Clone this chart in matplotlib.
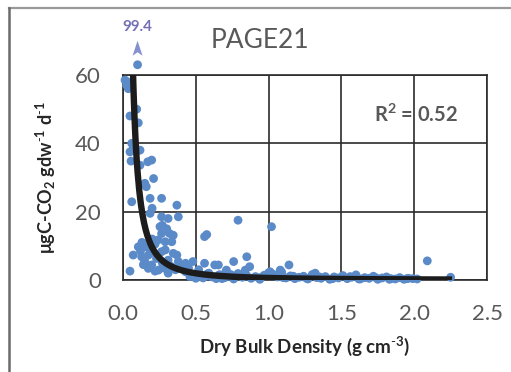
import numpy as np
import matplotlib
matplotlib.use("Agg")
import matplotlib.pyplot as plt
from matplotlib.lines import Line2D
from matplotlib.patches import Polygon

plt.rcParams['font.family'] = ['Lato', 'DejaVu Sans']
plt.rcParams['mathtext.fontset'] = 'custom'
plt.rcParams['mathtext.rm'] = 'Lato'
plt.rcParams['mathtext.bf'] = 'Lato:bold'
plt.rcParams['mathtext.default'] = 'bf'

# Dry bulk density (g cm-3) and respiration (ugC-CO2 gdw-1 d-1)
bulk_density = [
    0.10,
    0.014, 0.025, 0.036, 0.030, 0.094, 0.048, 0.105,
    0.060, 0.070, 0.048, 0.117, 0.055, 0.170, 0.197, 0.117,
    0.150, 0.210, 0.160, 0.060, 0.186, 0.265, 0.370,
    0.186, 0.265, 0.310, 0.380, 0.254, 0.265, 0.320, 0.345,
    0.560, 0.575, 0.240, 0.290, 0.335, 0.105, 0.160, 0.290, 0.345,
    0.070, 0.128, 0.174, 0.265, 0.230, 0.310, 0.370,
    0.150, 0.197, 0.243, 0.310, 0.048, 0.220, 0.174,
    0.380, 0.430, 0.480, 0.560, 0.630, 0.430, 0.490, 0.590, 0.660,
    0.790, 1.020, 0.655, 0.710, 0.760, 0.850, 0.870, 0.840, 1.140, 1.080, 1.320,
    2.090, 2.250,
    0.200, 0.220, 0.190, 0.270, 0.330, 0.360, 0.400, 0.450, 0.520, 0.280,
    0.140, 0.120, 0.130, 0.200, 0.270, 0.300,
    0.52, 0.55, 0.58, 0.61, 0.64, 0.67, 0.70, 0.73, 0.76, 0.79, 0.82, 0.85,
    0.88, 0.91, 0.94, 0.97, 1.00, 1.03, 1.06, 1.09, 1.12, 1.15, 1.18, 1.21,
    1.24, 1.27, 1.30, 1.33, 1.36, 1.39, 1.42, 1.45, 1.48, 1.51, 1.54, 1.57,
    1.60, 1.63, 1.66, 1.69, 1.72, 1.75, 1.78, 1.81, 1.84, 1.87, 1.90, 1.93,
    1.96, 1.99, 2.02,
    0.46, 0.50, 0.57, 0.68, 0.74, 0.95, 1.01, 1.05, 1.10, 1.17, 1.26, 1.35,
    1.44, 1.56, 1.62, 1.74, 1.83, 1.95,
]
respiration = [
    99.4,
    58.5, 57.0, 56.0, 58.0, 50.0, 48.0, 46.0,
    40.0, 38.6, 37.5, 38.0, 34.8, 34.6, 35.1, 33.6,
    28.3, 29.7, 27.3, 22.9, 23.9, 23.9, 21.9,
    19.5, 18.5, 18.0, 18.5, 15.6, 13.6, 13.6, 13.1,
    12.7, 13.3, 11.7, 11.2, 11.2, 9.7, 9.7, 8.8, 7.8,
    7.3, 6.8, 7.3, 8.3, 6.3, 5.8, 7.3,
    5.4, 4.4, 2.9, 2.0, 2.6, 2.6, 3.4,
    5.4, 4.9, 5.4, 4.9, 4.4, 2.4, 1.5, 2.0, 1.5,
    17.5, 15.6, 4.4, 2.9, 5.4, 6.8, 3.9, 2.9, 4.4, 2.9, 2.0,
    5.6, 0.8,
    12.0, 10.5, 8.0, 5.0, 4.0, 3.0, 3.5, 3.5, 3.0, 3.5,
    4.5, 8.5, 11.0, 21.0, 16.0, 15.0,
    1.2, 0.6, 1.8, 0.9, 0.4, 1.5, 0.7, 1.1, 0.3, 1.9, 0.8, 1.3,
    0.5, 1.0, 0.2, 1.4, 2.1, 1.7, 0.9, 2.3, 0.6, 1.2, 0.4, 0.8,
    1.1, 0.3, 1.6, 0.7, 0.5, 1.0, 0.2, 0.9, 0.6, 1.3, 0.4, 0.8,
    1.5, 0.3, 0.7, 0.5, 1.1, 0.2, 0.6, 0.9, 0.4, 0.3, 0.7, 0.2,
    0.5, 0.4, 0.3,
    1.0, 0.5, 1.2, 0.4, 1.6, 0.8, 2.4, 1.3, 0.7, 1.1, 0.5, 0.9,
    0.4, 1.0, 0.3, 0.6, 0.2, 0.4,
]

# Power-law trend: y = a * x^b
fit_a = 0.59
fit_b = -1.73
r_squared = 0.52

x_ticks = [0.0, 0.5, 1.0, 1.5, 2.0, 2.5]
y_ticks = [0, 20, 40, 60]
y_cap = 63.0  # values above the axis are drawn at this height and labelled

x = np.array(bulk_density)
y = np.array(respiration)
y_shown = np.minimum(y, y_cap)

W, H = 511, 372
fig = plt.figure(figsize=(W / 100, H / 100), dpi=100)
ax = fig.add_axes([123 / W, 1 - 280 / H, (487 - 123) / W, (280 - 75) / H])

ax.scatter(x, y_shown, s=40, color='#5b8ac8', edgecolors='none', zorder=3,
           clip_on=False)

xf = np.linspace(0.062, 2.26, 400)
ax.plot(xf, fit_a * xf ** fit_b, color='#1c1c1c', lw=4.6, zorder=4,
        solid_capstyle='butt')

ax.set_xlim(0, 2.5)
ax.set_ylim(0, 60)
ax.set_xticks(x_ticks)
ax.set_yticks(y_ticks)
ax.set_xticklabels([f'{t:.1f}' for t in x_ticks])
ax.set_yticklabels([str(t) for t in y_ticks])
ax.grid(True, color='#2b2b2b', lw=1.2)
ax.set_axisbelow(True)
for s in ax.spines.values():
    s.set_color('#2b2b2b')
    s.set_linewidth(1.2)
ax.tick_params(length=0, labelsize=16, labelcolor='#595959')
ax.tick_params(axis='x', pad=17)
ax.tick_params(axis='y', pad=16)

ax.set_xlabel(r'Dry Bulk Density (g cm$^{\text{-}3}$)', fontsize=13.5,
              fontweight='bold', color='#262626', labelpad=8)
ax.set_ylabel(r'μgC-CO$_{2}$ gdw$^{\text{-}1}$ d$^{\text{-}1}$', fontsize=13,
              fontweight='bold', color='#262626', labelpad=12)

fig.text(260 / W, 1 - 40 / H, 'PAGE21', fontsize=19, color='#595959',
         ha='center', va='center')
ax.text(2.01, 48.2, r'R$^{2}$ = 0.52', fontsize=14.5, fontweight='bold',
        color='#595959', ha='center', va='center')

# Off-scale value marker: arrow and label above the capped point
i_max = int(np.argmax(y))
px, py = ax.transData.transform((x[i_max], y_cap))
fig.patches.append(Polygon(
    [(px, py + 24), (px - 5, py + 9), (px, py + 12.5), (px + 5, py + 9)],
    closed=True, transform=None, facecolor='#8790cf', edgecolor='none'))
fig.text(px / W, (py + 38) / H, f'{y[i_max]:.1f}', fontsize=11,
         fontweight='bold', color='#7470b6', ha='center', va='center')

# Chart frame (top and left edges)
fig.add_artist(Line2D([9 / W, 1], [1 - 8 / H, 1 - 8 / H], color='#9a9a9a', lw=1.6))
fig.add_artist(Line2D([9 / W, 9 / W], [0, 1 - 8 / H], color='#6a6a6a', lw=1.8))

fig.savefig('out.png', dpi=100)
